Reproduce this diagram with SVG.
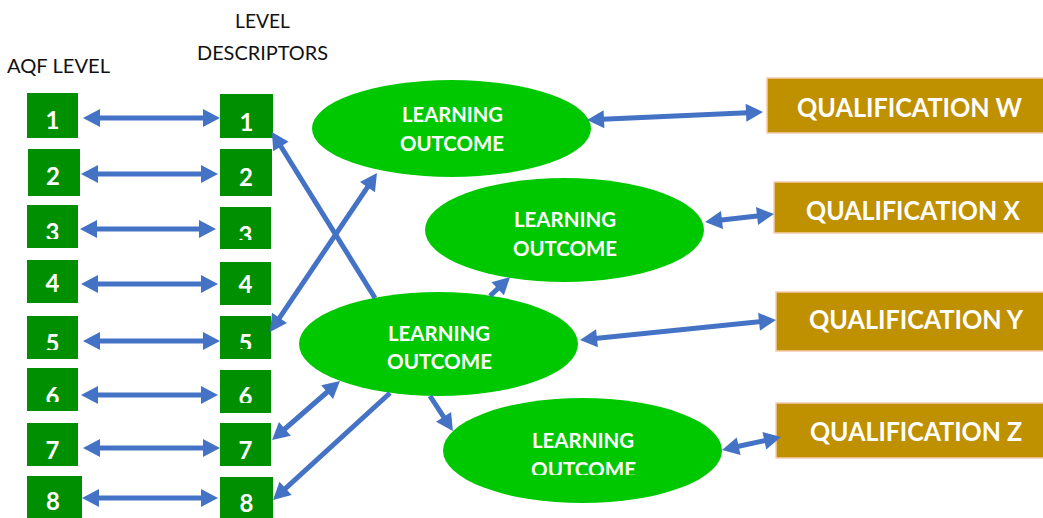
<svg xmlns="http://www.w3.org/2000/svg" width="1043" height="518" viewBox="0 0 1043 518">
<style>
.lvl{fill:#008F00}
.num{font-family:Lato,"Open Sans","Liberation Sans",sans-serif;font-weight:700;font-size:24px;fill:#fff;text-anchor:middle}
.hdr{font-family:Lato,"Liberation Sans",sans-serif;font-size:20px;fill:#111}
.lo{fill:#00C800}
.lot{font-family:Lato,"Open Sans","Liberation Sans",sans-serif;font-weight:700;font-size:21px;fill:#fff}
.q{fill:#BF9000;stroke:#F8CBAD;stroke-width:1.5}
.qt{font-family:Lato,"Open Sans","Liberation Sans",sans-serif;font-weight:700;font-size:26px;fill:#fff}
.c{stroke:#4472C4;stroke-width:5;fill:none}
.dbl{marker-start:url(#ah);marker-end:url(#ah)}
.one{marker-end:url(#ah)}
</style>
<defs>
<marker id="ah" markerUnits="userSpaceOnUse" markerWidth="18" markerHeight="18" refX="7" refY="9" orient="auto-start-reverse" overflow="visible">
<path d="M0,0 L17,9 L0,18 z" fill="#4472C4"/>
</marker>
<clipPath id="cl3" clipPathUnits="userSpaceOnUse"><rect x="20" y="200" width="70" height="39"/></clipPath>
<clipPath id="cl4" clipPathUnits="userSpaceOnUse"><rect x="20" y="255" width="70" height="38"/></clipPath>
<clipPath id="cl5" clipPathUnits="userSpaceOnUse"><rect x="20" y="310" width="70" height="40"/></clipPath>
<clipPath id="cl6" clipPathUnits="userSpaceOnUse"><rect x="20" y="360" width="70" height="42"/></clipPath>
<clipPath id="cr3" clipPathUnits="userSpaceOnUse"><rect x="210" y="200" width="70" height="40"/></clipPath>
<clipPath id="cr4" clipPathUnits="userSpaceOnUse"><rect x="210" y="255" width="70" height="40"/></clipPath>
<clipPath id="cr5" clipPathUnits="userSpaceOnUse"><rect x="210" y="310" width="70" height="39"/></clipPath>
<clipPath id="cr6" clipPathUnits="userSpaceOnUse"><rect x="210" y="360" width="70" height="43"/></clipPath>
<clipPath id="c8" clipPathUnits="userSpaceOnUse"><rect x="0" y="0" width="1043" height="475"/></clipPath>
</defs>
<rect width="1043" height="518" fill="#fff"/>

<g id="headers">
<text class="hdr" x="7" y="73" textLength="103" lengthAdjust="spacingAndGlyphs">AQF LEVEL</text>
<text class="hdr" x="235" y="28" textLength="55" lengthAdjust="spacingAndGlyphs">LEVEL</text>
<text class="hdr" x="197" y="60" textLength="131" lengthAdjust="spacingAndGlyphs">DESCRIPTORS</text>
</g>

<g id="aqf-1"><rect class="lvl" x="27" y="93" width="51" height="45"/><text class="num" x="52.5" y="129">1</text></g>
<g id="aqf-2"><rect class="lvl" x="28" y="149" width="52" height="47"/><text class="num" x="53" y="185">2</text></g>
<g id="aqf-3"><rect class="lvl" x="27" y="205" width="51" height="43"/><text class="num" x="52.5" y="241" clip-path="url(#cl3)">3</text></g>
<g id="aqf-4"><rect class="lvl" x="27" y="260" width="51" height="43"/><text class="num" x="52.5" y="292" clip-path="url(#cl4)">4</text></g>
<g id="aqf-5"><rect class="lvl" x="27" y="316" width="51" height="43"/><text class="num" x="52.5" y="352" clip-path="url(#cl5)">5</text></g>
<g id="aqf-6"><rect class="lvl" x="27" y="368" width="51" height="43"/><text class="num" x="52.5" y="405" clip-path="url(#cl6)">6</text></g>
<g id="aqf-7"><rect class="lvl" x="27" y="423" width="51" height="43"/><text class="num" x="52.5" y="459">7</text></g>
<g id="aqf-8"><rect class="lvl" x="27" y="476" width="55" height="45"/><text class="num" x="53" y="510">8</text></g>

<g id="desc-1"><rect class="lvl" x="220" y="94" width="53" height="44"/><text class="num" x="246.5" y="131">1</text></g>
<g id="desc-2"><rect class="lvl" x="220" y="149" width="52" height="47"/><text class="num" x="246" y="186">2</text></g>
<g id="desc-3"><rect class="lvl" x="220" y="207" width="51" height="42"/><text class="num" x="245.5" y="244" clip-path="url(#cr3)">3</text></g>
<g id="desc-4"><rect class="lvl" x="220" y="262" width="51" height="43"/><text class="num" x="245.5" y="293" clip-path="url(#cr4)">4</text></g>
<g id="desc-5"><rect class="lvl" x="220" y="316" width="51" height="43"/><text class="num" x="245.5" y="352" clip-path="url(#cr5)">5</text></g>
<g id="desc-6"><rect class="lvl" x="220" y="370" width="51" height="43"/><text class="num" x="245.5" y="405" clip-path="url(#cr6)">6</text></g>
<g id="desc-7"><rect class="lvl" x="220" y="423" width="51" height="43"/><text class="num" x="245.5" y="459">7</text></g>
<g id="desc-8"><rect class="lvl" x="220" y="477" width="53" height="45"/><text class="num" x="246.5" y="512">8</text></g>

<g id="lo-1"><ellipse class="lo" cx="451.5" cy="128.5" rx="139.5" ry="48.5"/>
<text class="lot" x="402" y="122" textLength="101" lengthAdjust="spacingAndGlyphs">LEARNING</text>
<text class="lot" x="400" y="151" textLength="104" lengthAdjust="spacingAndGlyphs">OUTCOME</text></g>
<g id="lo-2"><ellipse class="lo" cx="564.5" cy="230" rx="139.5" ry="52"/>
<text class="lot" x="514" y="227" textLength="102" lengthAdjust="spacingAndGlyphs">LEARNING</text>
<text class="lot" x="513" y="256" textLength="104" lengthAdjust="spacingAndGlyphs">OUTCOME</text></g>
<g id="lo-3"><ellipse class="lo" cx="438.5" cy="344" rx="139.5" ry="52"/>
<text class="lot" x="388" y="341" textLength="102" lengthAdjust="spacingAndGlyphs">LEARNING</text>
<text class="lot" x="387" y="369" textLength="105" lengthAdjust="spacingAndGlyphs">OUTCOME</text></g>
<g id="lo-4"><ellipse class="lo" cx="582.5" cy="450.5" rx="139.5" ry="52.5"/>
<text class="lot" x="532" y="448" textLength="102" lengthAdjust="spacingAndGlyphs">LEARNING</text>
<text class="lot" x="531" y="477" textLength="105" lengthAdjust="spacingAndGlyphs" clip-path="url(#c8)">OUTCOME</text></g>

<g id="qual-w"><rect class="q" x="767" y="78" width="300" height="55"/><text class="qt" x="797" y="117" textLength="225" lengthAdjust="spacingAndGlyphs">QUALIFICATION W</text></g>
<g id="qual-x"><rect class="q" x="774" y="182" width="300" height="51"/><text class="qt" x="806" y="220" textLength="214" lengthAdjust="spacingAndGlyphs">QUALIFICATION X</text></g>
<g id="qual-y"><rect class="q" x="776" y="292" width="300" height="59"/><text class="qt" x="809" y="329" textLength="214" lengthAdjust="spacingAndGlyphs">QUALIFICATION Y</text></g>
<g id="qual-z"><rect class="q" x="776" y="403" width="300" height="55"/><text class="qt" x="810" y="441" textLength="212" lengthAdjust="spacingAndGlyphs">QUALIFICATION Z</text></g>

<g id="connectors">
<line class="c dbl" x1="93" y1="118" x2="210" y2="118"/>
<line class="c dbl" x1="91" y1="174" x2="208" y2="174"/>
<line class="c dbl" x1="90" y1="229" x2="206" y2="229"/>
<line class="c dbl" x1="91" y1="284" x2="208" y2="284"/>
<line class="c dbl" x1="93" y1="341" x2="210" y2="341"/>
<line class="c dbl" x1="91" y1="395" x2="208" y2="395"/>
<line class="c dbl" x1="93" y1="448" x2="210" y2="448"/>
<line class="c dbl" x1="92" y1="498" x2="208" y2="498"/>

<line class="c dbl" x1="597" y1="119.5" x2="753" y2="112.5"/>
<line class="c dbl" x1="715" y1="220.8" x2="764" y2="215.2"/>
<line class="c dbl" x1="590" y1="339" x2="766" y2="321"/>
<line class="c dbl" x1="731.8" y1="447.8" x2="771.2" y2="439.2"/>

<line class="c one" x1="375" y1="298" x2="277.2" y2="140.5"/>
<line class="c dbl" x1="275.6" y1="323.7" x2="371.4" y2="181.3"/>
<line class="c one" x1="490" y1="296" x2="502.8" y2="283.9"/>
<line class="c dbl" x1="279.6" y1="433.5" x2="332.4" y2="387.5"/>
<line class="c one" x1="390" y1="393" x2="280.4" y2="493.2"/>
<line class="c one" x1="430" y1="396" x2="447.4" y2="422.7"/>
</g>
</svg>
